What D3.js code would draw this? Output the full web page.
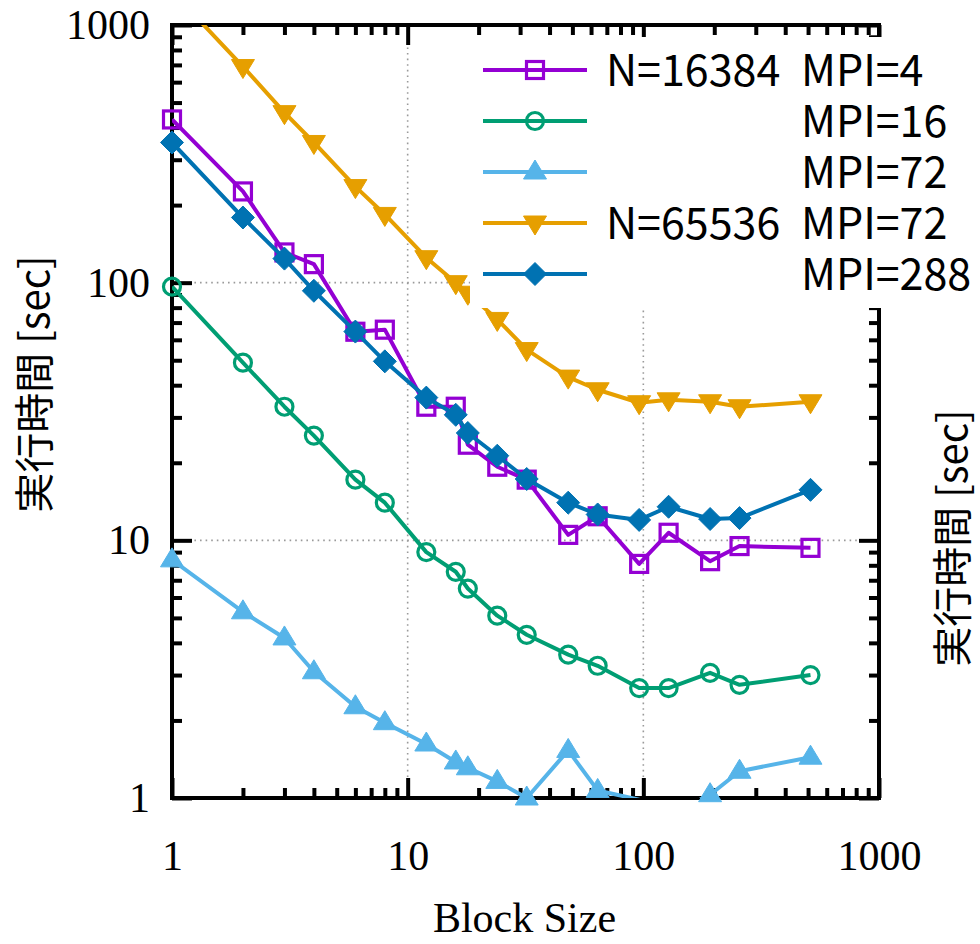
<!DOCTYPE html>
<html>
<head>
<meta charset="utf-8">
<script src="https://cdn.jsdelivr.net/npm/d3@7"></script>
<style>
  html, body { margin: 0; padding: 0; background: #fff; }
  svg { display: block; }
</style>
</head>
<body>
<div id="chart"></div>
<script>
// Block sizes on the x axis
const blockSizes = [1, 2, 3, 4, 6, 8, 12, 16, 18, 24, 32, 48, 64, 96, 128, 192, 256, 512];

// Execution time [sec] per series
const n16384Mpi4  = [430, 226, 131, 118, 64.5, 65.7, 33, 33, 23.5, 19.3, 17.2, 10.5, 12.4, 8.1, 10.7, 8.3, 9.5, 9.35];
const n16384Mpi16 = [96.5, 48.9, 33, 25.5, 17.2, 14.0, 9.0, 7.55, 6.5, 5.1, 4.3, 3.6, 3.26, 2.67, 2.67, 3.06, 2.75, 3.0];
const n16384Mpi72 = [8.4, 5.28, 4.18, 3.09, 2.26, 1.96, 1.62, 1.38, 1.31, 1.16, 1.0, 1.53, 1.07, 0.985, 0.86, 1.03, 1.27, 1.44];
const n65536Mpi72 = [1350, 690, 457, 350, 236, 184, 125, 100, 91, 72, 55, 43, 38.4, 34.2, 35.1, 34.5, 33.0, 34.5];
const n65536Mpi288 = [350, 179, 124, 93, 64.6, 49.5, 35.8, 30.7, 26.1, 21.3, 17.3, 14.0, 12.6, 12.0, 13.5, 12.1, 12.2, 15.7];

const majorTicks = [1, 10, 100, 1000];
const tickLabels = ['1', '10', '100', '1000'];

const legendPrefix = ['N=16384', '', '', 'N=65536', ''];
const legendLabels = ['MPI=4', 'MPI=16', 'MPI=72', 'MPI=72', 'MPI=288'];

const series = [
    { values: n16384Mpi4,   color: '#9400d3', marker: 'square' },
    { values: n16384Mpi16,  color: '#009e73', marker: 'circle' },
    { values: n16384Mpi72,  color: '#56b4e9', marker: 'triUp' },
    { values: n65536Mpi72,  color: '#e69f00', marker: 'triDown' },
    { values: n65536Mpi288, color: '#0072b2', marker: 'diamond' }
];

const width = 980, height = 944;
const plot = { left: 172, right: 879, top: 25, bottom: 798 };

const svg = d3.select('#chart')
    .append('svg')
    .attr('width', width)
    .attr('height', height);

const x = d3.scaleLog().domain([1, 1000]).range([plot.left, plot.right]);
const y = d3.scaleLog().domain([1, 1000]).range([plot.bottom, plot.top]);

const minorTicks = [];
[1, 10, 100].forEach(d => {
    for (let k = 2; k <= 9; k++) minorTicks.push(d * k);
});

svg.append('defs').append('clipPath')
    .attr('id', 'plotClip')
    .append('rect')
    .attr('x', plot.left)
    .attr('y', plot.top)
    .attr('width', plot.right - plot.left)
    .attr('height', plot.bottom - plot.top);

// Grid (dotted, major ticks only)
const grid = svg.append('g').attr('class', 'grid');
[10, 100].forEach(v => {
    grid.append('line')
        .attr('x1', x(v)).attr('x2', x(v))
        .attr('y1', plot.top).attr('y2', plot.bottom);
    grid.append('line')
        .attr('x1', plot.left).attr('x2', plot.right)
        .attr('y1', y(v)).attr('y2', y(v));
});
grid.selectAll('line')
    .attr('stroke', '#9a9a9a')
    .attr('stroke-width', 1.6)
    .attr('stroke-dasharray', '1.6,4');

// Axes: ticks point inward on all four sides
const fmt = d => tickLabels[majorTicks.indexOf(d)] || '';

function addAxis(axisFn, scale, transform, values, size, withLabels) {
    const g = svg.append('g')
        .attr('transform', transform)
        .call(axisFn(scale)
            .tickValues(values)
            .tickSizeInner(-size)
            .tickSizeOuter(0)
            .tickPadding(withLabels ? 22 : 0)
            .tickFormat(withLabels ? fmt : () => ''));
    g.select('.domain').remove();
    g.selectAll('.tick line').attr('stroke', '#000').attr('stroke-width', 4);
    if (!withLabels) {
        g.selectAll('text').remove();
    } else {
        g.selectAll('text')
            .attr('font-family', '"Liberation Serif", "Times New Roman", serif')
            .attr('font-size', 42)
            .attr('fill', '#000');
    }
    return g;
}

addAxis(d3.axisLeft, y, `translate(${plot.left},0)`, majorTicks, 20, true);
addAxis(d3.axisLeft, y, `translate(${plot.left},0)`, minorTicks, 10, false);
addAxis(d3.axisRight, y, `translate(${plot.right},0)`, majorTicks, 20, false);
addAxis(d3.axisRight, y, `translate(${plot.right},0)`, minorTicks, 10, false);
const xAxis = addAxis(d3.axisBottom, x, `translate(0,${plot.bottom})`, majorTicks, 20, true);
addAxis(d3.axisBottom, x, `translate(0,${plot.bottom})`, minorTicks, 10, false);
addAxis(d3.axisTop, x, `translate(0,${plot.top})`, majorTicks, 20, false);
addAxis(d3.axisTop, x, `translate(0,${plot.top})`, minorTicks, 10, false);
xAxis.selectAll('text').attr('dy', '1.2em');

// Border
svg.append('rect')
    .attr('x', plot.left)
    .attr('y', plot.top)
    .attr('width', plot.right - plot.left)
    .attr('height', plot.bottom - plot.top)
    .attr('fill', 'none')
    .attr('stroke', '#000')
    .attr('stroke-width', 4);

// Marker shapes
const markerPaths = {
    triUp: 'M0,-12L11.5,7L-11.5,7Z',
    triDown: 'M0,12L11.5,-7L-11.5,-7Z',
    diamond: 'M0,-11.5L11.5,0L0,11.5L-11.5,0Z'
};

function drawMarker(g, type, color) {
    if (type === 'square') {
        g.append('rect')
            .attr('x', -8.5).attr('y', -8.5)
            .attr('width', 17).attr('height', 17)
            .attr('fill', 'none')
            .attr('stroke', color)
            .attr('stroke-width', 3.2);
    } else if (type === 'circle') {
        g.append('circle')
            .attr('r', 8.5)
            .attr('fill', 'none')
            .attr('stroke', color)
            .attr('stroke-width', 3.2);
    } else {
        g.append('path')
            .attr('d', markerPaths[type])
            .attr('fill', color)
            .attr('stroke', color)
            .attr('stroke-width', 1);
    }
}

const line = d3.line()
    .x(d => x(d.bs))
    .y(d => y(d.t));

const inRange = v => v >= 0.999 && v <= 1000.001;

series.forEach(s => {
    const pts = blockSizes.map((bs, i) => ({ bs, t: s.values[i] }));
    const g = svg.append('g');
    g.append('path')
        .datum(pts)
        .attr('d', line)
        .attr('clip-path', 'url(#plotClip)')
        .attr('fill', 'none')
        .attr('stroke', s.color)
        .attr('stroke-width', 4)
        .attr('stroke-linejoin', 'round');
    g.selectAll('g.pt')
        .data(pts.filter(p => inRange(p.t)))
        .join('g')
        .attr('class', 'pt')
        .attr('transform', d => `translate(${x(d.bs)},${y(d.t)})`)
        .each(function() { drawMarker(d3.select(this), s.marker, s.color); });
});

// Legend (opaque box)
const legend = svg.append('g').attr('class', 'legend');
legend.append('rect')
    .attr('x', 470).attr('y', 37)
    .attr('width', 515).attr('height', 271)
    .attr('fill', '#fff');

const rowY = d3.scaleLinear().domain([0, 4]).range([70, 274]);
series.forEach((s, i) => {
    const ly = rowY(i);
    legend.append('line')
        .attr('x1', 483).attr('x2', 587)
        .attr('y1', ly).attr('y2', ly)
        .attr('stroke', s.color)
        .attr('stroke-width', 4);
    const mg = legend.append('g').attr('transform', `translate(535,${ly})`);
    drawMarker(mg, s.marker, s.color);
    const t = legend.append('text')
        .attr('y', ly + 16)
        .attr('font-family', '"Noto Sans CJK JP", "Noto Sans", sans-serif')
        .attr('font-size', 43)
        .attr('fill', '#000');
    if (legendPrefix[i]) t.append('tspan').attr('x', 606).text(legendPrefix[i] + ' ');
    t.append('tspan').attr('x', 801).text(legendLabels[i]);
});

// Axis titles
svg.append('text')
    .attr('x', (plot.left + plot.right) / 2 - 1)
    .attr('y', 932)
    .attr('text-anchor', 'middle')
    .attr('font-family', '"Liberation Serif", "Times New Roman", serif')
    .attr('font-size', 42)
    .text('Block Size');

const yTitle = '実行時間 [sec]';
svg.append('text')
    .attr('transform', 'translate(49,384) rotate(-90)')
    .attr('text-anchor', 'middle')
    .attr('font-family', '"Noto Sans CJK JP", sans-serif')
    .attr('font-size', 40)
    .text(yTitle);

svg.append('text')
    .attr('transform', 'translate(967,538) rotate(-90)')
    .attr('text-anchor', 'middle')
    .attr('font-family', '"Noto Sans CJK JP", sans-serif')
    .attr('font-size', 40)
    .text(yTitle);
</script>
</body>
</html>
